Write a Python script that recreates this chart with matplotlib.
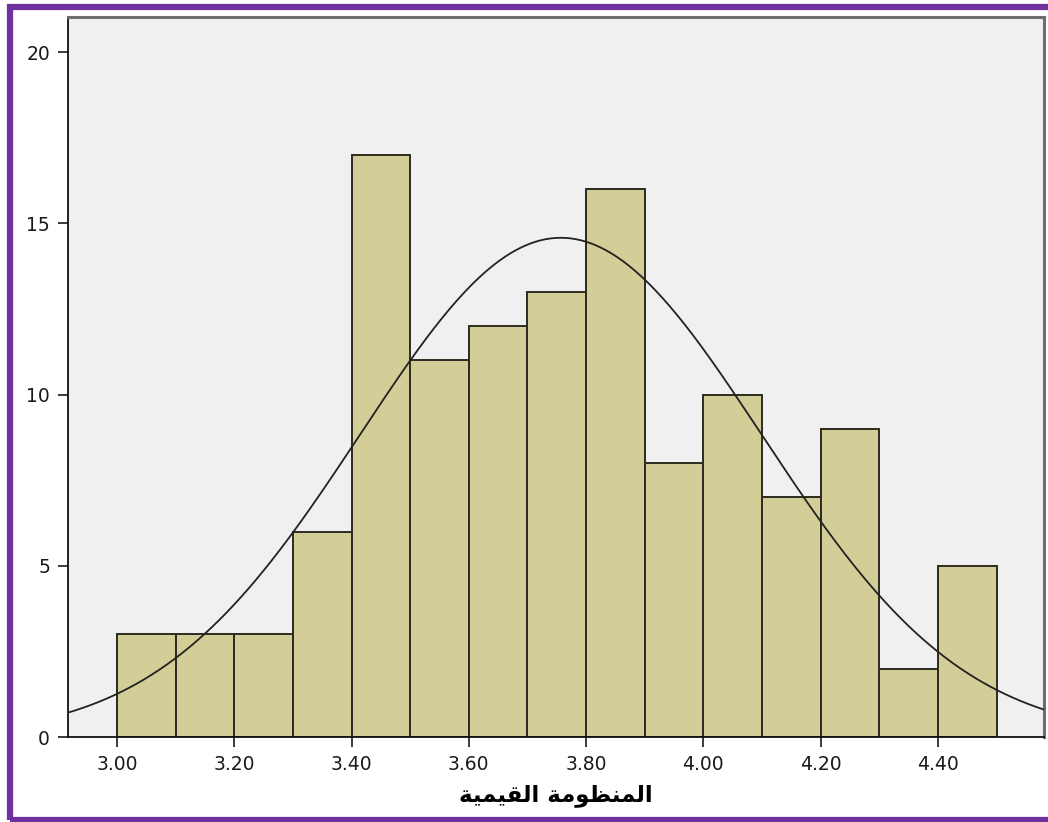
import numpy as np
import matplotlib.pyplot as plt
from matplotlib.patches import Rectangle

# Histogram bins (width 0.10) and frequencies
bin_edges = [3.0, 3.1, 3.2, 3.3, 3.4, 3.5, 3.6, 3.7, 3.8, 3.9,
             4.0, 4.1, 4.2, 4.3, 4.4, 4.5]
counts = [3, 3, 3, 6, 17, 11, 12, 13, 16, 8, 10, 7, 9, 2, 5]

# Normal curve parameters
mean_value = 3.757
std_value = 0.342

x_ticks = [3.00, 3.20, 3.40, 3.60, 3.80, 4.00, 4.20, 4.40]
y_ticks = [0, 5, 10, 15, 20]

# "المنظومة القيمية" written with presentation forms in visual order
axis_label = "المنظومة القيمية"
shaped = ("\uFE8D\uFEDF\uFEE4\uFEE8\uFEC8\uFEEE\uFEE3\uFE94"
          " "
          "\uFE8D\uFEDF\uFED8\uFEF4\uFEE4\uFEF4\uFE94")
label_visual = shaped[::-1]

fig = plt.figure(figsize=(10.48, 8.22), dpi=100)
ax = fig.add_axes([68 / 1048, 1 - 737 / 822, (1044 - 68) / 1048, (737 - 17) / 822])
ax.set_facecolor('#f0f0f0')

edges = np.array(bin_edges)
widths = np.diff(edges)
ax.bar(edges[:-1], counts, width=widths, align='edge',
       color='#d3ce97', edgecolor='#2b2b1e', linewidth=1.4, zorder=2)

xs = np.linspace(2.9, 4.6, 400)
n_total = sum(counts)
curve = n_total * widths[0] / (std_value * np.sqrt(2 * np.pi)) * \
    np.exp(-0.5 * ((xs - mean_value) / std_value) ** 2)
ax.plot(xs, curve, color='#222222', linewidth=1.3, zorder=3)

ax.set_xlim(2.9165, 4.581)
ax.set_ylim(0, 21.03)
ax.set_xticks(x_ticks)
ax.set_xticklabels([f"{t:.2f}" for t in x_ticks])
ax.set_yticks(y_ticks)
ax.tick_params(axis='both', direction='out', length=7, width=1.2,
               labelsize=13.5, colors='#1a1a1a', pad=6)

for side in ('left', 'bottom'):
    ax.spines[side].set_color('#111111')
    ax.spines[side].set_linewidth(1.3)
for side in ('top', 'right'):
    ax.spines[side].set_color('#6e6e6e')
    ax.spines[side].set_linewidth(2.2)

ax.set_xlabel(label_visual, fontsize=16.5, fontweight='bold',
              family='DejaVu Sans', labelpad=7)

# purple frame around the figure (right side runs off the edge)
fig.patches.append(Rectangle((10 / 1048, 2.5 / 822), 1.1, 1 - 10 / 822,
                             transform=fig.transFigure, fill=False,
                             edgecolor='#7030a0', linewidth=4.5))

fig.savefig('out.png', dpi=100)
